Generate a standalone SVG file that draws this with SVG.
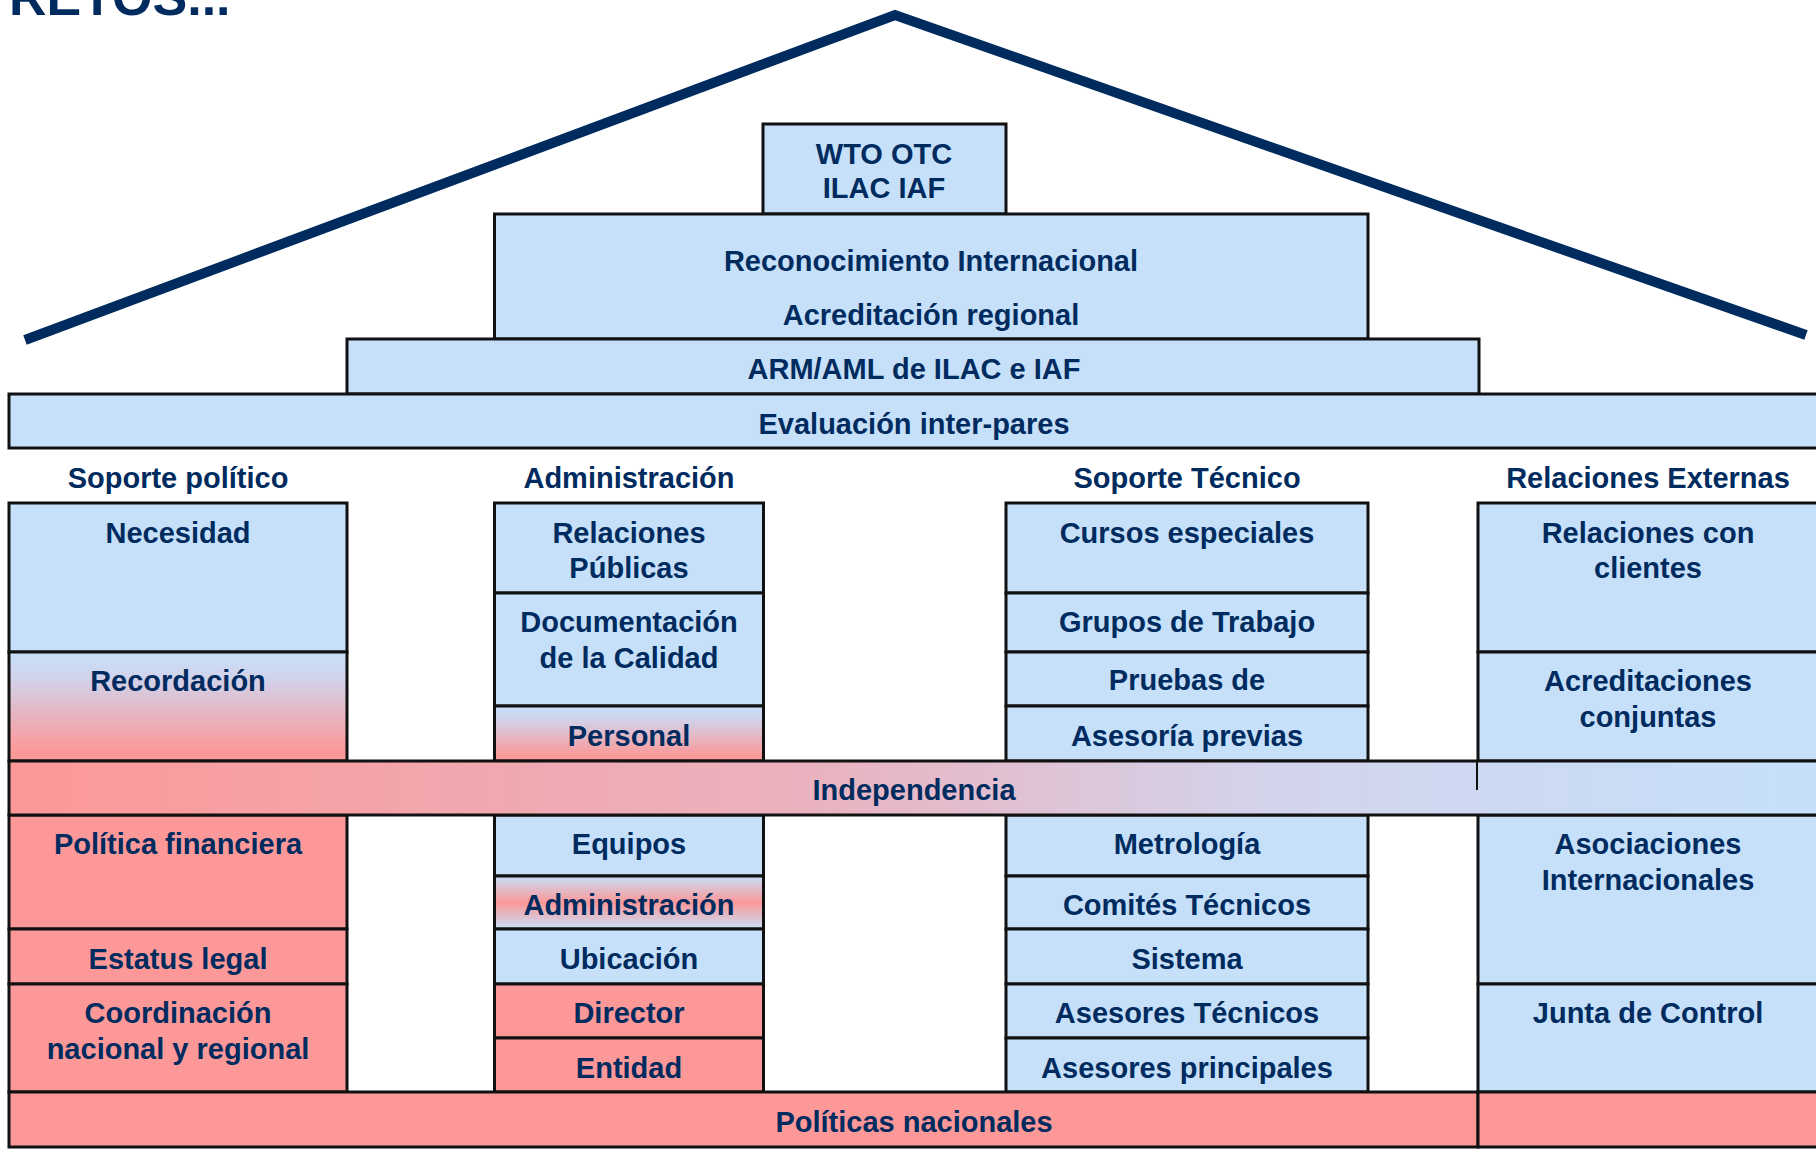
<svg xmlns="http://www.w3.org/2000/svg" width="1816" height="1149" viewBox="0 0 1816 1149">
<defs>
<style>
.b{stroke:#111;stroke-width:3}
.bl{fill:#C6E0FA}
.rd{fill:#FC9898}
.t{font-family:"Liberation Sans",Arial,sans-serif;font-weight:bold;font-size:29px;fill:#002B5F;text-anchor:middle}
</style>
<linearGradient id="gUp" x1="0" y1="0" x2="0" y2="1">
<stop offset="0" stop-color="#C6E0FA"/>
<stop offset="0.25" stop-color="#D2D2EA"/>
<stop offset="0.9" stop-color="#FB9999"/>
<stop offset="1" stop-color="#FC9898"/>
</linearGradient>
<linearGradient id="gMid" x1="0" y1="0" x2="0" y2="1">
<stop offset="0" stop-color="#C6E0FA"/>
<stop offset="0.5" stop-color="#FC9898"/>
<stop offset="1" stop-color="#C6E0FA"/>
</linearGradient>
<linearGradient id="gH" gradientUnits="userSpaceOnUse" x1="9" y1="0" x2="1816" y2="0">
<stop offset="0" stop-color="#FC9898"/>
<stop offset="0.45" stop-color="#EAB3C0"/>
<stop offset="0.7" stop-color="#D3D4EC"/>
<stop offset="1" stop-color="#C6E0FA"/>
</linearGradient>
</defs>

<text class="t" x="9" y="15" style="text-anchor:start;font-size:52px">RETOS...</text>

<g id="roof">
<polyline points="25,340 895,15 1806,335" fill="none" stroke="#002B5F" stroke-width="10" stroke-linejoin="miter"/>
</g>

<g id="n-wto"><rect class="b bl" x="763" y="124" width="243" height="90"/><text class="t" x="884" y="164">WTO OTC</text><text class="t" x="884" y="198">ILAC IAF</text></g>
<g id="n-reconocimiento"><rect class="b bl" x="494.5" y="214" width="873.5" height="125"/><text class="t" x="931" y="271">Reconocimiento Internacional</text><text class="t" x="931" y="325">Acreditación regional</text></g>
<g id="n-arm"><rect class="b bl" x="347" y="339" width="1132" height="55"/><text class="t" x="914" y="379">ARM/AML de ILAC e IAF</text></g>
<g id="n-evaluacion"><rect class="b bl" x="9" y="394" width="1830" height="54"/><text class="t" x="914" y="434">Evaluación inter-pares</text></g>

<g id="headers">
<text class="t" x="178" y="488">Soporte político</text>
<text class="t" x="629" y="488">Administración</text>
<text class="t" x="1187" y="488">Soporte Técnico</text>
<text class="t" x="1648" y="488">Relaciones Externas</text>
</g>

<g id="n-necesidad"><rect class="b bl" x="9" y="503" width="338" height="149"/><text class="t" x="178" y="543">Necesidad</text></g>
<g id="n-recordacion"><rect class="b" fill="url(#gUp)" x="9" y="652" width="338" height="109"/><text class="t" x="178" y="691">Recordación</text></g>
<g id="n-politica-financiera"><rect class="b rd" x="9" y="815" width="338" height="114"/><text class="t" x="178" y="854">Política financiera</text></g>
<g id="n-estatus"><rect class="b rd" x="9" y="929" width="338" height="55"/><text class="t" x="178" y="969">Estatus legal</text></g>
<g id="n-coordinacion"><rect class="b rd" x="9" y="984" width="338" height="108"/><text class="t" x="178" y="1023">Coordinación</text><text class="t" x="178" y="1059">nacional y regional</text></g>

<g id="n-relaciones-publicas"><rect class="b bl" x="494.5" y="503" width="269" height="90"/><text class="t" x="629" y="543">Relaciones</text><text class="t" x="629" y="578">Públicas</text></g>
<g id="n-documentacion"><rect class="b bl" x="494.5" y="593" width="269" height="113"/><text class="t" x="629" y="632">Documentación</text><text class="t" x="629" y="668">de la Calidad</text></g>
<g id="n-personal"><rect class="b" fill="url(#gUp)" x="494.5" y="706" width="269" height="55"/><text class="t" x="629" y="746">Personal</text></g>
<g id="n-equipos"><rect class="b bl" x="494.5" y="815" width="269" height="61"/><text class="t" x="629" y="854">Equipos</text></g>
<g id="n-administracion"><rect class="b" fill="url(#gMid)" x="494.5" y="876" width="269" height="53"/><text class="t" x="629" y="915">Administración</text></g>
<g id="n-ubicacion"><rect class="b bl" x="494.5" y="929" width="269" height="55"/><text class="t" x="629" y="969">Ubicación</text></g>
<g id="n-director"><rect class="b rd" x="494.5" y="984" width="269" height="54"/><text class="t" x="629" y="1023">Director</text></g>
<g id="n-entidad"><rect class="b rd" x="494.5" y="1038" width="269" height="54"/><text class="t" x="629" y="1078">Entidad</text></g>

<g id="n-cursos"><rect class="b bl" x="1006" y="503" width="362" height="90"/><text class="t" x="1187" y="543">Cursos especiales</text></g>
<g id="n-grupos"><rect class="b bl" x="1006" y="593" width="362" height="59"/><text class="t" x="1187" y="632">Grupos de Trabajo</text></g>
<g id="n-pruebas"><rect class="b bl" x="1006" y="652" width="362" height="54"/><text class="t" x="1187" y="690">Pruebas de</text></g>
<g id="n-asesoria"><rect class="b bl" x="1006" y="706" width="362" height="55"/><text class="t" x="1187" y="746">Asesoría previas</text></g>
<g id="n-metrologia"><rect class="b bl" x="1006" y="815" width="362" height="61"/><text class="t" x="1187" y="854">Metrología</text></g>
<g id="n-comites"><rect class="b bl" x="1006" y="876" width="362" height="53"/><text class="t" x="1187" y="915">Comités Técnicos</text></g>
<g id="n-sistema"><rect class="b bl" x="1006" y="929" width="362" height="55"/><text class="t" x="1187" y="969">Sistema</text></g>
<g id="n-asesores-tecnicos"><rect class="b bl" x="1006" y="984" width="362" height="54"/><text class="t" x="1187" y="1023">Asesores Técnicos</text></g>
<g id="n-asesores-principales"><rect class="b bl" x="1006" y="1038" width="362" height="54"/><text class="t" x="1187" y="1078">Asesores principales</text></g>

<g id="n-relaciones-clientes"><rect class="b bl" x="1478" y="503" width="360" height="149"/><text class="t" x="1648" y="543">Relaciones con</text><text class="t" x="1648" y="578">clientes</text></g>
<g id="n-acreditaciones"><rect class="b bl" x="1478" y="652" width="360" height="109"/><text class="t" x="1648" y="691">Acreditaciones</text><text class="t" x="1648" y="727">conjuntas</text></g>
<g id="n-asociaciones"><rect class="b bl" x="1478" y="815" width="360" height="169"/><text class="t" x="1648" y="854">Asociaciones</text><text class="t" x="1648" y="890">Internacionales</text></g>
<g id="n-junta"><rect class="b bl" x="1478" y="984" width="360" height="108"/><text class="t" x="1648" y="1023">Junta de Control</text></g>

<g id="n-independencia"><rect class="b" fill="url(#gH)" x="9" y="761" width="1830" height="54"/><text class="t" x="914" y="800">Independencia</text></g>
<g id="n-politicas-nacionales"><rect class="b rd" x="9" y="1092" width="1469" height="55"/><rect class="b rd" x="1478" y="1092" width="360" height="55"/><text class="t" x="914" y="1132">Políticas nacionales</text></g>

<g id="connectors">
<line x1="1477" y1="761" x2="1477" y2="790" stroke="#111" stroke-width="2"/>
</g>
</svg>
